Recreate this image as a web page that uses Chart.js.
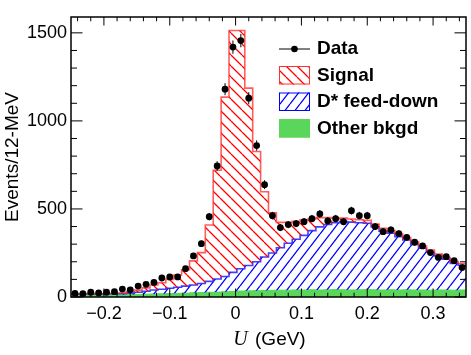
<!DOCTYPE html>
<html>
<head>
<meta charset="utf-8">
<script src="https://cdn.jsdelivr.net/npm/chart.js@4.4.1/dist/chart.umd.min.js"></script>
<style>
html,body{margin:0;padding:0;background:#fff}
canvas{display:block}
</style>
</head>
<body>
<canvas id="chart" width="471" height="355"></canvas>
<script>
// histogram binning: 12 MeV bins from -0.25 to 0.35 GeV
let binLo=-0.25
let binWidth=0.012
let xMin=-0.25
let xMax=0.35
let yMax=1590
let xTicks=[-0.2,-0.1,0,0.1,0.2,0.3]
let yTicks=[0,500,1000,1500]

let data=[21,19,27,23,27,30,45,41,62,72,83,108,114,114,161,233,303,456,744,1180,
  1419,1456,1129,860,638,462,394,411,417,428,445,472,432,445,428,490,462,462,400,371,
  381,360,339,311,290,252,225,229,206,167]
let signal=[2,2,2,2,2,3,4,9,12,19,28,37,50,70,93,137,175,320,618,1019,
  1373,1353,1007,626,371,228,144,119,102,88,66,53,39,25,20,18,17,16,16,16,
  15,15,14,14,13,12,11,10,10,10]
let feedDown=[6,6,6,6,6,6,6,8,12,17,23,26,30,34,40,44,52,62,74,86,
  108,126,144,164,190,212,241,266,288,310,336,358,371,380,387,385,381,377,357,334,
  321,303,283,259,237,215,193,174,152,140]
let other=[10,10,11,11,12,12,13,14,15,16,17,18,20,21,22,24,25,27,28,30,
  32,34,35,36,37,38,39,39,40,40,41,40,41,42,41,40,41,42,41,40,
  41,40,41,40,40,39,40,40,39,40]

let canvas=document.getElementById('chart')
let ctx0=canvas.getContext('2d')

// tile w x h with one diagonal line -> hatch
function hatch(color,dir,w,h) {
    let c=document.createElement('canvas')
    c.width=w
    c.height=h
    let g=c.getContext('2d')
    g.strokeStyle=color
    g.lineWidth=1.3
    g.beginPath()
    for (let k=-1;k<=1;k++) {
        if (dir=='back') {
            g.moveTo(k*w,0)
            g.lineTo(k*w+w,h)
        } else {
            g.moveTo(k*w,h)
            g.lineTo(k*w+w,0)
        }
    }
    g.stroke()
    return ctx0.createPattern(c,'repeat')
}
let redHatch=hatch('#ff0000','back',11,11)
let blueHatch=hatch('#0000ff','fwd',10,13)
let green='#5ad65a'

// cumulative stack, drawn as step outlines over the bin edges
let cumOther=other.slice()
let cumFeed=other.map((v,i)=>v+feedDown[i])
let cumSig=cumFeed.map((v,i)=>v+signal[i])
function steps(vals) {
    let pts=vals.map((v,i)=>({x:binLo+i*binWidth,y:v}))
    pts.push({x:binLo+vals.length*binWidth,y:vals[vals.length-1]})
    return pts
}
let centers=data.map((v,i)=>binLo+(i+0.5)*binWidth)

let frame={
    id:'frame',
    afterDatasetsDraw(chart) {
        let c=chart.ctx
        let a=chart.chartArea
        let x=chart.scales.x
        let y=chart.scales.y
        c.save()
        // error bars
        c.strokeStyle='#000'
        c.lineWidth=1
        data.forEach((v,i)=>{
            let px=x.getPixelForValue(centers[i])
            let e=Math.sqrt(v)
            c.beginPath()
            c.moveTo(px,y.getPixelForValue(v-e))
            c.lineTo(px,y.getPixelForValue(v+e))
            c.stroke()
        })
        // ticks on all four sides, pointing in
        c.beginPath()
        for (let k=-12;k<=17;k++) {
            let px=x.getPixelForValue(k*0.02)
            let len=(k%5==0)?8.5:4.3
            c.moveTo(px,a.bottom)
            c.lineTo(px,a.bottom-len)
            c.moveTo(px,a.top)
            c.lineTo(px,a.top+len)
        }
        for (let k=0;k<=15;k++) {
            let py=y.getPixelForValue(k*100)
            let len=(k%5==0)?11.5:6
            c.moveTo(a.left,py)
            c.lineTo(a.left+len,py)
            c.moveTo(a.right,py)
            c.lineTo(a.right-len,py)
        }
        c.stroke()
        c.lineWidth=1.5
        c.strokeRect(a.left,a.top,a.right-a.left,a.bottom-a.top)
        c.restore()
    },
    afterDraw(chart) {
        let c=chart.ctx
        let a=chart.chartArea
        c.save()
        // x axis title with italic U
        let f1='italic 20px "Liberation Serif", serif'
        let f2='19px "Liberation Sans", Arial, sans-serif'
        c.font=f1
        let w1=c.measureText('U').width
        c.font=f2
        let w2=c.measureText(' (GeV)').width
        let x0=(a.left+a.right)/2-(w1+w2)/2
        c.fillStyle='#000'
        c.textBaseline='alphabetic'
        c.font=f1
        c.fillText('U',x0,345)
        c.font=f2
        c.fillText(' (GeV)',x0+w1+2,345)

        // legend
        let lx=279
        let lw=31
        c.font='bold 19px "Liberation Sans", Arial, sans-serif'
        c.textBaseline='middle'
        c.strokeStyle='#000'
        c.lineWidth=1
        c.beginPath()
        c.moveTo(lx,49)
        c.lineTo(lx+lw,49)
        c.stroke()
        c.beginPath()
        c.arc(lx+lw/2,49,3.3,0,Math.PI*2)
        c.fill()
        c.fillText('Data',317,48.5)
        let rows=[
            {top:66,fill:redHatch,line:'#ff3030',label:'Signal'},
            {top:92.5,fill:blueHatch,line:'#0000ff',label:'D* feed-down'},
            {top:119,fill:green,line:green,label:'Other bkgd'}
        ]
        rows.forEach(r=>{
            c.fillStyle=r.fill
            c.fillRect(lx,r.top,lw,18.5)
            c.strokeStyle=r.line
            c.lineWidth=1
            c.strokeRect(lx+0.5,r.top+0.5,lw-1,17.5)
            c.fillStyle='#000'
            c.fillText(r.label,317,r.top+9.3)
        })
        c.restore()
    }
}

new Chart(canvas,{
    type:'line',
    data:{
        datasets:[
            {
                label:'Other bkgd',
                data:steps(cumOther),
                stepped:'before',
                borderColor:green,
                borderWidth:1,
                backgroundColor:green,
                fill:'origin',
                pointRadius:0,
                order:3
            },
            {
                label:'D* feed-down',
                data:steps(cumFeed),
                stepped:'before',
                borderColor:'rgba(30,30,255,0.85)',
                borderWidth:1.6,
                backgroundColor:blueHatch,
                fill:'-1',
                pointRadius:0,
                order:2
            },
            {
                label:'Signal',
                data:steps(cumSig),
                stepped:'before',
                borderColor:'rgba(255,40,40,0.75)',
                borderWidth:1.6,
                backgroundColor:redHatch,
                fill:'-1',
                pointRadius:0,
                order:1
            },
            {
                type:'scatter',
                label:'Data',
                data:data.map((v,i)=>({x:centers[i],y:v})),
                pointRadius:3.4,
                pointBackgroundColor:'#000',
                pointBorderWidth:0,
                showLine:false,
                order:0
            }
        ]
    },
    options:{
        responsive:false,
        animation:false,
        devicePixelRatio:1,
        layout:{padding:{top:17,right:5,left:0,bottom:0}},
        plugins:{legend:{display:false},tooltip:{enabled:false}},
        scales:{
            x:{
                type:'linear',
                min:xMin,
                max:xMax,
                afterBuildTicks:s=>{s.ticks=xTicks.map(v=>({value:v}))},
                afterFit:s=>{s.height=58},
                grid:{display:false,drawTicks:false},
                border:{display:false},
                ticks:{
                    padding:6,
                    maxRotation:0,
                    autoSkip:false,
                    color:'#000',
                    font:{family:'"Liberation Sans", Arial, sans-serif',size:18},
                    callback:v=>v<0?'\u2212'+Math.abs(v):String(v)
                }
            },
            y:{
                min:0,
                max:yMax,
                afterBuildTicks:s=>{s.ticks=yTicks.map(v=>({value:v}))},
                afterFit:s=>{s.width=71},
                grid:{display:false,drawTicks:false},
                border:{display:false},
                title:{
                    display:true,
                    text:'Events/12-MeV',
                    color:'#000',
                    padding:{top:1,bottom:0},
                    font:{family:'"Liberation Sans", Arial, sans-serif',size:19}
                },
                ticks:{
                    padding:4,
                    autoSkip:false,
                    color:'#000',
                    font:{family:'"Liberation Sans", Arial, sans-serif',size:18},
                    callback:v=>String(v)
                }
            }
        }
    },
    plugins:[frame]
})
</script>
</body>
</html>
